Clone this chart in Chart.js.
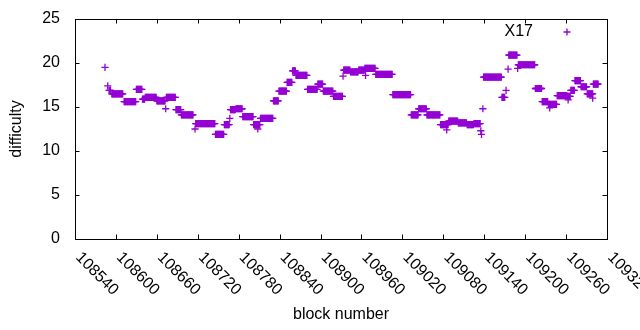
<!DOCTYPE html>
<html>
<head>
<meta charset="utf-8">
<script src="https://cdn.jsdelivr.net/npm/chart.js@4.4.1/dist/chart.umd.min.js"></script>
<style>
  html, body { margin: 0; padding: 0; background: #fff; }
  #wrap { width: 640px; height: 330px; }
</style>
</head>
<body>
<div id="wrap"><canvas id="c" width="640" height="330"></canvas></div>
<script>
// difficulty is constant over runs of blocks; singles are runs of length one
const runFrom = [108584, 108588, 108590, 108594, 108612, 108630, 108639, 108643, 108660, 108673, 108674, 108688,
                 108696, 108716, 108717, 108746, 108759, 108767, 108768, 108776, 108786, 108802, 108808, 108812,
                 108831, 108839, 108851, 108859, 108864, 108881, 108896, 108904, 108919, 108933, 108934, 108944,
                 108956, 108965, 108966, 108981, 109006, 109033, 109044, 109056, 109076, 109085, 109088, 109102,
                 109115, 109125, 109135, 109136, 109138, 109139, 109166, 109172, 109175, 109176, 109189, 109190,
                 109215, 109225, 109234, 109236, 109247, 109262, 109263, 109267, 109273, 109282, 109291, 109299,
                 109300];
const runTo   = [108584, 108588, 108592, 108610, 108629, 108638, 108642, 108659, 108672, 108673, 108687, 108695,
                 108713, 108716, 108745, 108758, 108766, 108767, 108775, 108785, 108801, 108811, 108808, 108830,
                 108838, 108850, 108858, 108863, 108880, 108895, 108903, 108918, 108932, 108933, 108943, 108955,
                 108964, 108980, 108966, 109005, 109032, 109043, 109055, 109075, 109087, 109085, 109101, 109114,
                 109124, 109134, 109135, 109136, 109138, 109165, 109170, 109172, 109175, 109188, 109189, 109214,
                 109224, 109233, 109246, 109236, 109261, 109266, 109263, 109272, 109281, 109290, 109299, 109299,
                 109307];
const runDiff = [19.5, 17.4, 16.9, 16.5, 15.6, 17.0, 15.9, 16.1, 15.7, 14.8, 16.1, 14.7,
                 14.1, 12.5, 13.1, 11.9, 13.0, 13.7, 14.7, 14.8, 13.9, 13.0, 12.5, 13.7,
                 15.7, 16.8, 17.8, 19.1, 18.6, 17.0, 17.6, 16.8, 16.2, 18.5, 19.2, 19.0,
                 19.2, 19.4, 18.6, 18.7, 16.4, 14.1, 14.8, 14.1, 13.0, 12.4, 13.4, 13.2,
                 13.0, 13.1, 12.3, 11.9, 14.8, 18.4, 16.1, 16.9, 19.3, 20.9, 19.4, 19.8,
                 17.1, 15.6, 15.3, 14.9, 16.3, 16.2, 15.8, 16.9, 18.0, 17.3, 16.5, 16.0,
                 17.6];

const xTicks = [108540, 108600, 108660, 108720, 108780, 108840, 108900, 108960, 109020, 109080, 109140, 109200, 109260, 109320];
const yTicks = [0, 5, 10, 15, 20, 25];
const seriesName = 'X17';
const xTitle = 'block number';
const yTitle = 'difficulty';

const purple = '#9400d3';
const font = '16px "Liberation Sans", Arial, sans-serif';

const points = [];
runFrom.forEach((from, i) => {
    for (let b = from; b <= runTo[i]; b++) points.push({ x: b, y: runDiff[i] });
});

const gnuFrame = {
    id: 'gnuFrame',
    afterDraw(chart) {
        const ctx = chart.ctx;
        const a = chart.chartArea;
        const xs = chart.scales.x, ys = chart.scales.y;
        const tic = 4.5;
        ctx.save();
        ctx.strokeStyle = '#000';
        ctx.lineWidth = 1;
        ctx.beginPath();
        xTicks.forEach(v => {
            const px = Math.round(xs.getPixelForValue(v)) + 0.5;
            ctx.moveTo(px, a.bottom); ctx.lineTo(px, a.bottom - tic);
            ctx.moveTo(px, a.top); ctx.lineTo(px, a.top + tic);
        });
        yTicks.forEach(v => {
            const py = Math.round(ys.getPixelForValue(v)) + 0.5;
            ctx.moveTo(a.left, py); ctx.lineTo(a.left + tic, py);
            ctx.moveTo(a.right, py); ctx.lineTo(a.right - tic, py);
        });
        ctx.stroke();
        ctx.strokeRect(Math.round(a.left) + 0.5, Math.round(a.top) + 0.5,
                       Math.round(a.right - a.left), Math.round(a.bottom - a.top));

        ctx.fillStyle = '#000';
        ctx.font = font;
        ctx.textAlign = 'right';
        ctx.textBaseline = 'middle';
        yTicks.forEach(v => ctx.fillText(String(v), a.left - 15, ys.getPixelForValue(v)));

        ctx.textAlign = 'left';
        xTicks.forEach(v => {
            ctx.save();
            ctx.translate(xs.getPixelForValue(v) + 3, a.bottom + 16);
            ctx.rotate(Math.PI / 4);
            ctx.fillText(String(v), 0, 0);
            ctx.restore();
        });

        ctx.textAlign = 'center';
        ctx.fillText(xTitle, (a.left + a.right) / 2, 315);
        ctx.save();
        ctx.translate(17, (a.top + a.bottom) / 2);
        ctx.rotate(-Math.PI / 2);
        ctx.fillText(yTitle, 0, 0);
        ctx.restore();

        // key
        ctx.textAlign = 'right';
        ctx.fillText(seriesName, 533, 32);
        ctx.strokeStyle = purple;
        ctx.lineWidth = 1.3;
        ctx.beginPath();
        ctx.moveTo(563.5, 32); ctx.lineTo(570.5, 32);
        ctx.moveTo(567, 28.5); ctx.lineTo(567, 35.5);
        ctx.stroke();
        ctx.restore();
    }
};

new Chart(document.getElementById('c'), {
    type: 'scatter',
    data: {
        datasets: [{
            label: seriesName,
            data: points,
            pointStyle: 'cross',
            pointRadius: 3.6,
            pointBorderWidth: 1.3,
            borderColor: purple,
            backgroundColor: purple
        }]
    },
    options: {
        responsive: false,
        animation: false,
        events: [],
        layout: { padding: { left: 75, right: 33, top: 19, bottom: 91 } },
        plugins: { legend: { display: false }, tooltip: { enabled: false } },
        scales: {
            x: { type: 'linear', min: 108540, max: 109320, display: false },
            y: { min: 0, max: 25, display: false }
        }
    },
    plugins: [gnuFrame]
});
</script>
</body>
</html>
